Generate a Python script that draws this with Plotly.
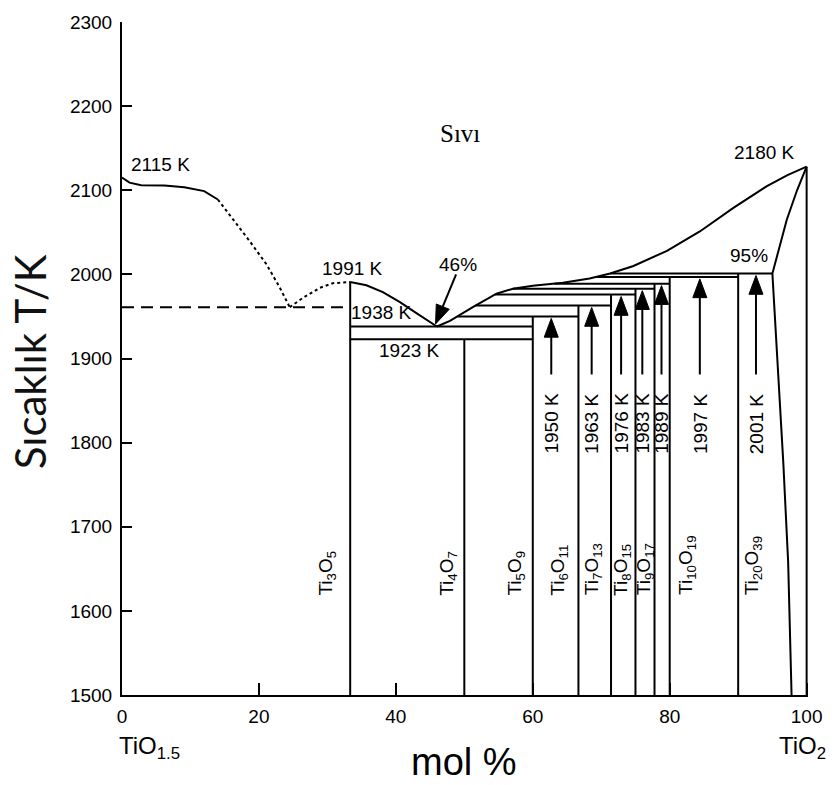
import numpy as np
import plotly.graph_objects as go

# ---------------- data ----------------
# compounds Ti_nO_(2n-1): composition (mol % TiO2) and upper temperature (K)
comp_labels = ["Ti<sub>3</sub>O<sub>5</sub>", "Ti<sub>4</sub>O<sub>7</sub>", "Ti<sub>5</sub>O<sub>9</sub>",
               "Ti<sub>6</sub>O<sub>11</sub>", "Ti<sub>7</sub>O<sub>13</sub>", "Ti<sub>8</sub>O<sub>15</sub>",
               "Ti<sub>9</sub>O<sub>17</sub>", "Ti<sub>10</sub>O<sub>19</sub>", "Ti<sub>20</sub>O<sub>39</sub>"]
comp_x = [33.33, 50.0, 60.0, 66.67, 71.43, 75.0, 77.78, 80.0, 90.0]
comp_top = [1991, 1923, 1950, 1963, 1976, 1983, 1989, 1997, 2001]
comp_label_x = [29.9, 47.6, 57.5, 63.8, 68.9, 73.1, 76.5, 82.6, 92.3]

# peritectic lines (T, right end composition)
peri_T = [1950, 1963, 1976, 1983, 1989, 1997, 2001]
peri_right = [66.67, 71.43, 75.0, 77.78, 80.0, 90.0, 95.0]
peri_labels = ["1950 K", "1963 K", "1976 K", "1983 K", "1989 K", "1997 K", "2001 K"]
arrow_x = [62.7, 68.6, 72.9, 76.0, 78.8, 84.4, 92.6]

# eutectic-region horizontals (T, from, to)
eut_T = [1938, 1923]
eut_from = [33.33, 33.33]
eut_to = [60.0, 60.0]

# left liquidus (solid part)
liqL_x = [0.0, 1.1, 2.8, 6.2, 9.1, 12.0, 14.0]
liqL_T = [2115, 2109, 2106, 2105.5, 2103.5, 2099, 2089]
# dotted part down to the monotectic point
dotA_x = [14.0, 16.2, 18.6, 21.1, 23.0, 24.5]
dotA_T = [2089, 2066, 2040, 2012, 1985, 1961]
# dotted rise to Ti3O5
dotB_x = [24.5, 26.4, 28.9, 30.8, 33.33]
dotB_T = [1961, 1972, 1984, 1989.5, 1991]
# dashed horizontal
dash_x = [0.0, 33.33]
dash_T = [1961, 1961]
# Ti3O5 liquidus to eutectic
liqM_x = [33.33, 35.7, 38.1, 40.6, 43.0, 46.0]
liqM_T = [1991, 1987, 1979, 1967, 1954, 1938]
# liquidus from eutectic to TiO2
liqR_x = [46.0, 47.9, 51.3, 54.7, 57.1, 60.0, 64.4, 68.3, 71.3, 74.7, 79.6, 84.4, 89.3, 94.2, 97.2, 100.0]
liqR_T = [1938, 1944.7, 1961.4, 1977, 1983, 1986.5, 1990, 1995, 2001, 2010, 2028, 2051, 2079, 2105, 2118, 2128]
# TiO2 solid-solution boundary (solidus + solvus)
sol_x = [100.0, 98.6, 97.1, 96.1, 95.0, 96.6, 97.3, 97.8]
sol_T = [2128, 2100, 2065, 2034, 2001, 1775, 1658, 1500]

# ---------------- layout geometry ----------------
W, H = 840, 785
ML, MR, MT, MB = 122, 32, 14, 90
XR = [0, 100.2]
YR = [1500, 2300]
px_x = (W - ML - MR) / (XR[1] - XR[0])
px_y = (H - MT - MB) / (YR[1] - YR[0])

fig = go.Figure()
BLK = "black"


def add_line(xs, ys, dash=None, width=2):
    fig.add_trace(go.Scatter(x=xs, y=ys, mode="lines",
                             line=dict(color=BLK, width=width, dash=dash),
                             hoverinfo="skip", showlegend=False))


# curves
add_line(liqL_x, liqL_T, None, 2)
add_line(dotA_x, dotA_T, "3px,3px", 2)
add_line(dotB_x, dotB_T, "3px,3px", 2)
add_line(dash_x, dash_T, "12px,7px", 2)
add_line(liqM_x, liqM_T, None, 2)
add_line(liqR_x, liqR_T, None, 2)
add_line(sol_x, sol_T, None, 2)

# vertical compound lines + right boundary
vx, vy = [], []
for cx, ct in zip(comp_x, comp_top):
    vx += [cx, cx, None]
    vy += [YR[0], ct, None]
vx += [100.0, 100.0, None]
vy += [YR[0], liqR_T[-1], None]
add_line(vx, vy, None, 2)

# horizontal lines
hx, hy = [], []
for t, a, b in zip(eut_T, eut_from, eut_to):
    hx += [a, b, None]
    hy += [t, t, None]
for t, b in zip(peri_T, peri_right):
    a = float(np.interp(t, liqR_T, liqR_x))
    hx += [a, b, None]
    hy += [t, t, None]
add_line(hx, hy, None, 2)

# vertical arrows
shaft_bottom = 1881
head_len_px, head_half_px, gap_px = 19, 7, 2
sx, sy = [], []
for ax_, t in zip(arrow_x, peri_T):
    tip = t - gap_px / px_y
    sx += [ax_, ax_, None]
    sy += [shaft_bottom, tip - head_len_px / px_y + 1, None]
    fig.add_trace(go.Scatter(
        x=[ax_ - head_half_px / px_x, ax_, ax_ + head_half_px / px_x, ax_ - head_half_px / px_x],
        y=[tip - head_len_px / px_y, tip, tip - head_len_px / px_y, tip - head_len_px / px_y],
        mode="lines", fill="toself", fillcolor=BLK, line=dict(color=BLK, width=1),
        hoverinfo="skip", showlegend=False))
add_line(sx, sy, None, 2)

# diagonal 46% arrow
tail = (48.8, 2000)
tipd = (45.8, 1941)
dxp = (tipd[0] - tail[0]) * px_x
dyp = (tipd[1] - tail[1]) * px_y
L = (dxp ** 2 + dyp ** 2) ** 0.5
ux, uy = dxp / L, dyp / L
bx, by = -ux * head_len_px, -uy * head_len_px
nx, ny = -uy * head_half_px, ux * head_half_px
base_x = tipd[0] + bx / px_x
base_y = tipd[1] + by / px_y
add_line([tail[0], base_x], [tail[1], base_y], None, 2)
fig.add_trace(go.Scatter(
    x=[base_x + nx / px_x, tipd[0], base_x - nx / px_x, base_x + nx / px_x],
    y=[base_y + ny / px_y, tipd[1], base_y - ny / px_y, base_y + ny / px_y],
    mode="lines", fill="toself", fillcolor=BLK, line=dict(color=BLK, width=1),
    hoverinfo="skip", showlegend=False))

# ---------------- annotations ----------------
FONT = "Liberation Sans, Arial, sans-serif"
ann = []


def txt(x, y, s, size=19, angle=0, xa="center", ya="middle", xref="x", yref="y", family=FONT, color=BLK):
    ann.append(dict(x=x, y=y, xref=xref, yref=yref, text=s, showarrow=False, textangle=angle,
                    xanchor=xa, yanchor=ya, font=dict(family=family, size=size, color=color)))


txt(5.6, 2131, "2115 K")
txt(33.6, 2007, "1991 K")
txt(37.96, 1955, "1938 K")
txt(41.97, 1909, "1923 K")
txt(49.1, 2012, "46%")
txt(93.8, 2145, "2180 K")
txt(91.6, 2022, "95%")
txt(49.3, 2167, "Sıvı", size=25, family="Liberation Serif, Times New Roman, serif")

for lx, s in zip(arrow_x, peri_labels):
    txt(lx, 1823, s, angle=-90)
for lx, s in zip(comp_label_x, comp_labels):
    txt(lx, 1616, s, angle=-90, ya="bottom")

# axis texts
txt(-0.008, -0.078, "TiO<sub>1.5</sub>", size=24, xa="left", xref="paper", yref="paper")
txt(0.955, -0.078, "TiO<sub>2</sub>", size=24, xa="left", xref="paper", yref="paper")
txt(0.498, -0.0995, "mol %", size=38, xref="paper", yref="paper")
txt(-0.135, 0.495, "Sıcaklık T/K", size=42, angle=-90, xref="paper", yref="paper",
    family="Lato, Open Sans, sans-serif", color="#111111")

fig.update_layout(
    width=W, height=H, margin=dict(l=ML, r=MR, t=MT, b=MB, pad=0),
    paper_bgcolor="white", plot_bgcolor="white", showlegend=False,
    annotations=ann,
    xaxis=dict(range=XR, tickvals=[0, 20, 40, 60, 80, 100], ticks="inside", ticklen=12, tickwidth=1.5,
               tickcolor=BLK, showline=True, linecolor=BLK, linewidth=2, showgrid=False, zeroline=False,
               tickfont=dict(family=FONT, size=19, color=BLK), ticklabelstandoff=3),
    yaxis=dict(range=YR, dtick=100, ticks="inside", ticklen=10, tickwidth=1.5, tickcolor=BLK,
               showline=True, linecolor=BLK, linewidth=2, showgrid=False, zeroline=False,
               tickfont=dict(family=FONT, size=19, color=BLK), ticklabelstandoff=4),
)

fig.write_html("out.html")
